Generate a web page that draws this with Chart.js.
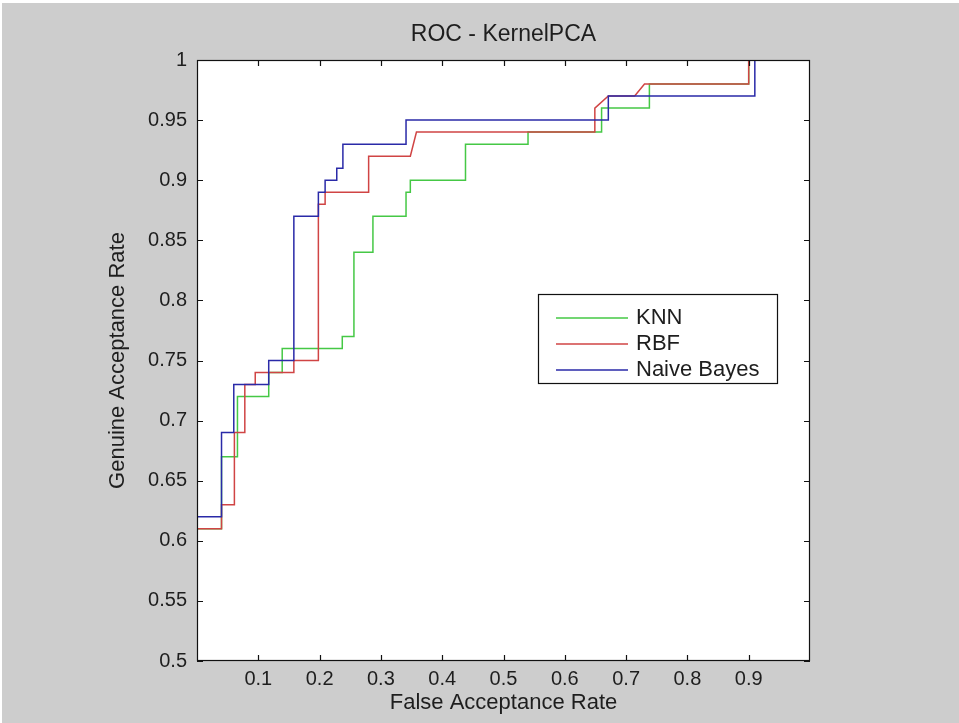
<!DOCTYPE html>
<html>
<head>
<meta charset="utf-8">
<script src="https://cdn.jsdelivr.net/npm/chart.js@4/dist/chart.umd.min.js"></script>
<style>
html, body { margin: 0; padding: 0; background: #fff; }
#wrap { position: absolute; left: 0; top: 0; width: 959px; height: 723px; }
</style>
</head>
<body>
<div id="wrap"><canvas id="roc" width="959" height="723"></canvas></div>
<script>
/* ===== Data ===== */

var chartTitle = 'ROC - KernelPCA';
var seriesNames = ['KNN', 'RBF', 'Naive Bayes'];

var knnFar = [0, 0.04, 0.04, 0.066, 0.066, 0.117, 0.117, 0.139, 0.139, 0.237, 0.237, 0.256, 0.256, 0.287, 0.287,
    0.341, 0.341, 0.348, 0.348, 0.438, 0.438, 0.54, 0.54, 0.66, 0.66, 0.738, 0.738, 0.90, 0.90, 1];
var knnGar = [0.61, 0.61, 0.67, 0.67, 0.72, 0.72, 0.74, 0.74, 0.76, 0.76, 0.77, 0.77, 0.84, 0.84, 0.87,
    0.87, 0.89, 0.89, 0.90, 0.90, 0.93, 0.93, 0.94, 0.94, 0.96, 0.96, 0.98, 0.98, 1, 1];

var rbfFar = [0, 0.04, 0.04, 0.061, 0.061, 0.078, 0.078, 0.095, 0.095, 0.158, 0.158, 0.198, 0.198, 0.209, 0.209,
    0.28, 0.28, 0.348, 0.358, 0.649, 0.649, 0.671, 0.714, 0.73, 0.90, 0.90, 1];
var rbfGar = [0.61, 0.61, 0.63, 0.63, 0.69, 0.69, 0.73, 0.73, 0.74, 0.74, 0.75, 0.75, 0.88, 0.88, 0.89,
    0.89, 0.92, 0.92, 0.94, 0.94, 0.96, 0.97, 0.97, 0.98, 0.98, 1, 1];

var nbFar = [0, 0.04, 0.04, 0.06, 0.06, 0.117, 0.117, 0.158, 0.158, 0.198, 0.198, 0.209, 0.209, 0.228, 0.228,
    0.238, 0.238, 0.341, 0.341, 0.671, 0.671, 0.91, 0.91, 1];
var nbGar = [0.62, 0.62, 0.69, 0.69, 0.73, 0.73, 0.75, 0.75, 0.87, 0.87, 0.89, 0.89, 0.90, 0.90, 0.91,
    0.91, 0.93, 0.93, 0.95, 0.95, 0.97, 0.97, 1, 1];

var xTicks = [0.1, 0.2, 0.3, 0.4, 0.5, 0.6, 0.7, 0.8, 0.9];
var yTicks = [0.5, 0.55, 0.6, 0.65, 0.7, 0.75, 0.8, 0.85, 0.9, 0.95, 1];

/* ===== Styles ===== */

var lineColors = ['#45c845', '#d04444', '#2a2aa8'];
var fontFamily = '"Liberation Sans", Arial, sans-serif';
var textColor = '#1e1e1e';
var figureBg = '#cdcdcd';

function toPoints(xs, ys) {
    return xs.map(function(x, i) { return { x: x, y: ys[i] }; });
}

function fmt(v) {
    return String(parseFloat(v.toFixed(2)));
}

/* ===== Plugins: figure background, title, box + inward ticks, legend ===== */

var figurePlugin = {
    id: 'figure',
    beforeDraw: function(chart) {
        var ctx = chart.ctx;
        var a = chart.chartArea;
        ctx.save();
        ctx.fillStyle = figureBg;
        ctx.fillRect(2, 3, chart.width, chart.height);
        ctx.fillStyle = '#ffffff';
        ctx.fillRect(a.left, a.top, a.right - a.left, a.bottom - a.top);

        // axes title, centred over the plot area
        ctx.fillStyle = textColor;
        ctx.font = '23px ' + fontFamily;
        ctx.textAlign = 'center';
        ctx.textBaseline = 'middle';
        ctx.fillText(chartTitle, (a.left + a.right) / 2, a.top - 25);
        ctx.restore();
    },
    afterDraw: function(chart) {
        var ctx = chart.ctx;
        var a = chart.chartArea;
        var xs = chart.scales.x;
        var ys = chart.scales.y;
        var tl = 6;
        ctx.save();
        ctx.strokeStyle = '#111';
        ctx.lineWidth = 1.2;
        ctx.strokeRect(a.left + 0.5, a.top + 0.5, a.right - a.left - 1, a.bottom - a.top - 1);

        ctx.beginPath();
        xTicks.forEach(function(v) {
            var px = Math.round(xs.getPixelForValue(v)) + 0.5;
            ctx.moveTo(px, a.bottom); ctx.lineTo(px, a.bottom - tl);
            ctx.moveTo(px, a.top); ctx.lineTo(px, a.top + tl);
        });
        yTicks.forEach(function(v) {
            var py = Math.round(ys.getPixelForValue(v)) + 0.5;
            ctx.moveTo(a.left, py); ctx.lineTo(a.left + tl, py);
            ctx.moveTo(a.right, py); ctx.lineTo(a.right - tl, py);
        });
        ctx.stroke();

        // legend box (MATLAB style, inside axes)
        var bx = a.left + 341, by = a.top + 234, bw = 239, bh = 89;
        ctx.fillStyle = '#ffffff';
        ctx.fillRect(bx, by, bw, bh);
        ctx.strokeStyle = '#111';
        ctx.lineWidth = 1.2;
        ctx.strokeRect(bx + 0.5, by + 0.5, bw, bh);
        ctx.font = '22px ' + fontFamily;
        ctx.textBaseline = 'middle';
        ctx.textAlign = 'left';
        chart.data.datasets.forEach(function(ds, i) {
            var ry = by + 24 + i * 26;
            ctx.strokeStyle = ds.borderColor;
            ctx.lineWidth = 1.5;
            ctx.beginPath();
            ctx.moveTo(bx + 18, ry); ctx.lineTo(bx + 90, ry);
            ctx.stroke();
            ctx.fillStyle = textColor;
            ctx.fillText(ds.label, bx + 98, ry);
        });
        ctx.restore();
    }
};

/* ===== Chart ===== */

var datasets = [
    toPoints(knnFar, knnGar),
    toPoints(rbfFar, rbfGar),
    toPoints(nbFar, nbGar)
].map(function(pts, i) {
    return {
        label: seriesNames[i],
        data: pts,
        borderColor: lineColors[i],
        borderWidth: 1.5,
        pointRadius: 0,
        showLine: true,
        fill: false,
        tension: 0,
        order: 3 - i
    };
});

new Chart(document.getElementById('roc'), {
    type: 'scatter',
    data: { datasets: datasets },
    plugins: [figurePlugin],
    options: {
        responsive: false,
        animation: false,
        layout: { padding: { left: 0, right: 149, top: 60, bottom: 0 } },
        plugins: {
            legend: { display: false },
            tooltip: { enabled: false },
            title: { display: false }
        },
        scales: {
            x: {
                type: 'linear',
                min: 0,
                max: 1,
                afterFit: function(s) { s.height = 62; },
                afterBuildTicks: function(s) {
                    s.ticks = [0].concat(xTicks, [1]).map(function(v) { return { value: v }; });
                },
                grid: { display: false, drawTicks: false },
                border: { display: false },
                ticks: {
                    padding: 6,
                    color: textColor,
                    font: { family: fontFamily, size: 20 },
                    callback: function(v) { return (v === 0 || v === 1) ? '' : fmt(v); }
                },
                title: {
                    display: true,
                    text: 'False Acceptance Rate',
                    color: textColor,
                    font: { family: fontFamily, size: 22 },
                    padding: { top: 0, bottom: 7 }
                }
            },
            y: {
                type: 'linear',
                min: 0.5,
                max: 1,
                afterFit: function(s) { s.width = 197; },
                afterBuildTicks: function(s) {
                    s.ticks = yTicks.map(function(v) { return { value: v }; });
                },
                grid: { display: false, drawTicks: false },
                border: { display: false },
                ticks: {
                    padding: 10,
                    color: textColor,
                    font: { family: fontFamily, size: 20 },
                    callback: function(v) { return fmt(v); }
                },
                title: {
                    display: true,
                    text: 'Genuine Acceptance Rate',
                    color: textColor,
                    font: { family: fontFamily, size: 22 },
                    padding: { top: 105, bottom: 0 }
                }
            }
        }
    }
});
</script>
</body>
</html>
